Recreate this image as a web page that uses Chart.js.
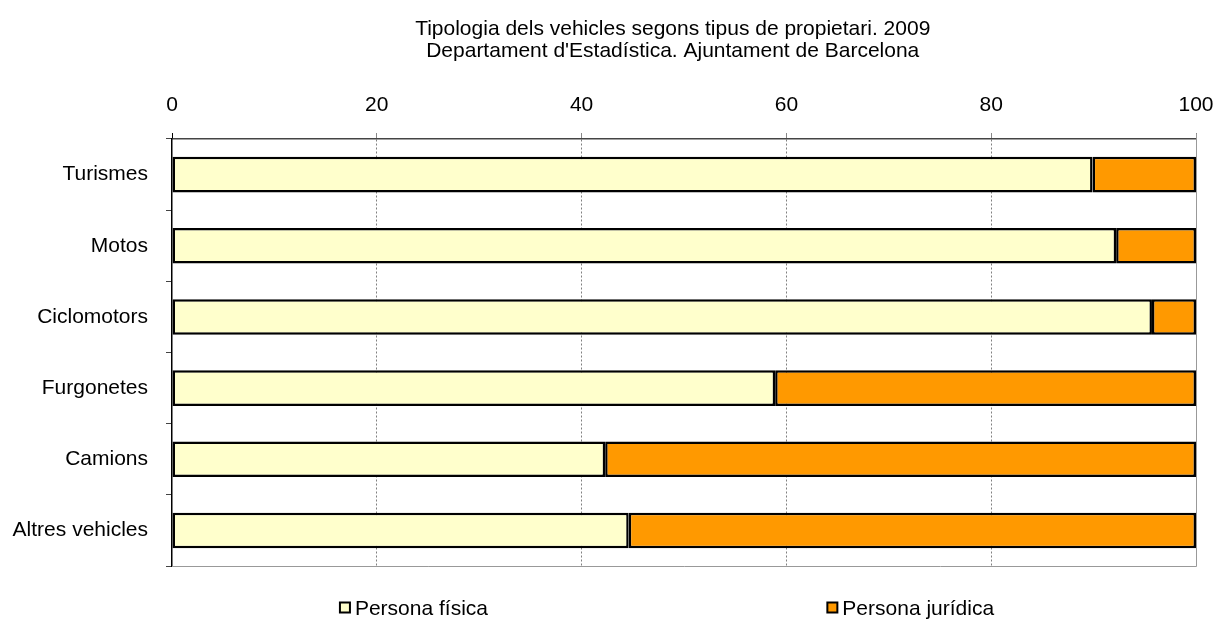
<!DOCTYPE html>
<html>
<head>
<meta charset="utf-8">
<script src="https://cdn.jsdelivr.net/npm/chart.js@4.4.1/dist/chart.umd.min.js"></script>
<style>
  html, body { margin: 0; padding: 0; background: #fff; }
  #wrap { width: 1215px; height: 619px; }
</style>
</head>
<body>
<div id="wrap"><canvas id="myChart"></canvas></div>
<script>
const titleLines = [
  "Tipologia dels vehicles segons tipus de propietari. 2009",
  "Departament d'Estadística. Ajuntament de Barcelona"
];
const vehicles = ["Turismes", "Motos", "Ciclomotors", "Furgonetes", "Camions", "Altres vehicles"];
const personaFisica = [89.9, 92.2, 95.7, 58.9, 42.3, 44.6];
const personaJuridica = [10.1, 7.8, 4.3, 41.1, 57.7, 55.4];
const seriesNames = ["Persona física", "Persona jurídica"];
const seriesColors = ["#FFFFCC", "#FF9900"];
const xTicks = [0, 20, 40, 60, 80, 100];

const FONT = "'Liberation Sans', Arial, sans-serif";
const FS = 21;

// title over the plot, frame lines and the bottom legend
const extras = {
  id: 'extras',
  beforeDatasetsDraw(chart) {
    const { ctx, chartArea: a } = chart;
    ctx.save();
    ctx.strokeStyle = '#999';
    ctx.lineWidth = 1;
    ctx.beginPath();
    ctx.moveTo(a.right + 0.5, a.top - 5);
    ctx.lineTo(a.right + 0.5, a.bottom + 0.5);
    ctx.lineTo(a.left, a.bottom + 0.5);
    ctx.stroke();
    ctx.restore();
  },
  afterDraw(chart) {
    const { ctx, chartArea: a } = chart;
    const w = a.right - a.left;
    ctx.save();
    ctx.fillStyle = '#000';
    ctx.textAlign = 'center';
    ctx.textBaseline = 'alphabetic';
    ctx.font = FS + 'px ' + FONT;
    const cx = a.left + w * 0.489;
    titleLines.forEach((t, i) => ctx.fillText(t, cx, 35 + i * 22));

    // legend
    ctx.textAlign = 'left';
    ctx.textBaseline = 'middle';
    const starts = [a.left + w * 0.164, a.left + w * 0.64];
    const ly = 608;
    seriesNames.forEach((name, i) => {
      const x = starts[i];
      ctx.fillStyle = seriesColors[i];
      ctx.fillRect(x, ly - 5.5, 10, 10);
      ctx.strokeStyle = '#000';
      ctx.lineWidth = 2;
      ctx.strokeRect(x, ly - 5.5, 10, 10);
      ctx.fillStyle = '#000';
      ctx.fillText(name, x + 15, ly + 1);
    });
    ctx.restore();
  }
};

const ctx = document.getElementById('myChart');
new Chart(ctx, {
  type: 'bar',
  data: {
    labels: vehicles,
    datasets: [
      {
        label: seriesNames[0],
        data: personaFisica,
        backgroundColor: seriesColors[0],
        borderColor: '#000',
        borderWidth: 2.5,
        borderSkipped: false,
        categoryPercentage: 0.5,
        barPercentage: 1.0
      },
      {
        label: seriesNames[1],
        data: personaJuridica,
        backgroundColor: seriesColors[1],
        borderColor: '#000',
        borderWidth: 2.5,
        borderSkipped: false,
        categoryPercentage: 0.5,
        barPercentage: 1.0
      }
    ]
  },
  options: {
    indexAxis: 'y',
    responsive: true,
    maintainAspectRatio: false,
    animation: false,
    layout: { padding: { left: 10, right: 19, top: 70, bottom: 53 } },
    plugins: {
      legend: { display: false },
      title: { display: false },
      tooltip: { enabled: false }
    },
    scales: {
      x: {
        position: 'top',
        stacked: true,
        min: 0,
        max: 100,
        afterBuildTicks: (s) => { s.ticks = xTicks.map(v => ({ value: v })); },
        afterFit: (s) => { s.height = 69; s.paddingLeft = 0; s.paddingRight = 0; },
        ticks: {
          color: '#000',
          font: { family: FONT, size: FS },
          padding: 15
        },
        grid: {
          drawTicks: true,
          tickLength: 6,
          tickColor: (c) => (c.tick && c.tick.value === 0) ? '#000' : '#888',
          color: (c) => (c.tick && (c.tick.value === 0 || c.tick.value === 100)) ? 'rgba(0,0,0,0)' : '#808080',
          lineWidth: 1
        },
        border: { display: true, color: '#444', width: 1.5, dash: [2, 2] }
      },
      y: {
        stacked: true,
        afterFit: (s) => { s.width = 162; },
        ticks: {
          color: '#000',
          font: { family: FONT, size: FS },
          padding: 18
        },
        grid: {
          offset: true,
          drawOnChartArea: false,
          drawTicks: true,
          tickLength: 6,
          color: '#444'
        },
        border: { display: true, color: '#000', width: 1.5 }
      }
    }
  },
  plugins: [extras]
});
</script>
</body>
</html>
